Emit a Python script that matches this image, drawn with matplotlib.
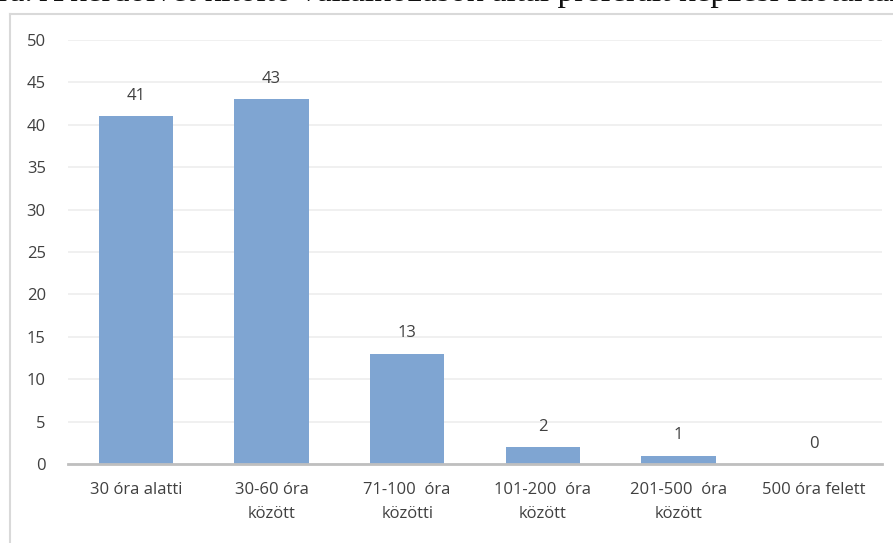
import matplotlib.pyplot as plt
from matplotlib.lines import Line2D

# Chart data
categories = ["30 óra alatti", "30-60 óra\nközött", "71-100  óra\nközötti",
              "101-200  óra\nközött", "201-500  óra\nközött", "500 óra felett"]
values = [41, 43, 13, 2, 1, 0]
title = "ábra. A kérdőívet kitöltő vállalkozások által preferált képzési időtartam"

bar_color = "#7FA5D2"
text_color = "#404040"

plt.rcParams["font.family"] = ["Open Sans", "DejaVu Sans"]

fig = plt.figure(figsize=(8.93, 5.43), dpi=100)
ax = fig.add_axes([68 / 893, 1 - 464 / 543, 814 / 893, 424 / 543])

x = range(len(values))
bars = ax.bar(x, values, width=0.55, color=bar_color, zorder=2)

# Value labels above bars
for xi, v in zip(x, values):
    ax.annotate(str(v), (xi, v), xytext=(0, 9), textcoords="offset points",
                ha="center", va="bottom", fontsize=12, color=text_color)

ax.set_xlim(-0.5, len(values) - 0.5)
ax.set_ylim(0, 50)
ax.set_yticks(range(0, 51, 5))
ax.set_xticks(list(x))
ax.set_xticklabels(categories, fontsize=12, color=text_color, linespacing=1.7)
ax.tick_params(axis="y", length=0, pad=16, labelsize=12, labelcolor=text_color)
ax.tick_params(axis="x", length=0, pad=13)
ax.grid(axis="y", color="#EEEEEE", linewidth=1.2, zorder=0)
for side in ["top", "right", "left"]:
    ax.spines[side].set_visible(False)
ax.spines["bottom"].set_color("#BFBFBF")
ax.spines["bottom"].set_linewidth(2)
ax.spines["bottom"].set_zorder(3)

# Outer chart frame (only top and left edges fall inside the picture)
fig.add_artist(Line2D([10 / 893, 1.0], [1 - 14 / 543, 1 - 14 / 543],
                      transform=fig.transFigure, color="#D9D9D9", linewidth=1.5))
fig.add_artist(Line2D([10 / 893, 10 / 893], [0, 1 - 14 / 543],
                      transform=fig.transFigure, color="#D9D9D9", linewidth=1.5))

# Caption text, cut off at the top of the picture as in the source
fig.text(-33 / 893, 1 - 1 / 543, title, ha="left", va="baseline",
         fontsize=24, family="Liberation Serif", color="#111111")

fig.savefig("out.png", dpi=100)
